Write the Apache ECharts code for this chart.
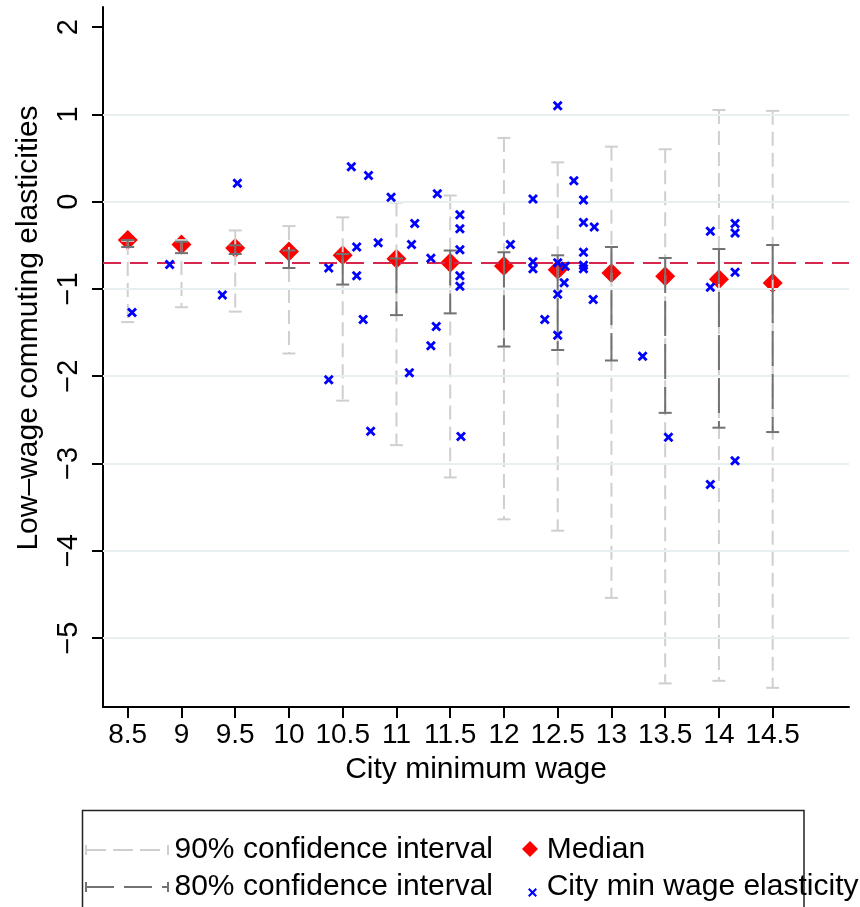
<!DOCTYPE html>
<html>
<head>
<meta charset="utf-8">
<script src="https://cdn.jsdelivr.net/npm/echarts@6/dist/echarts.min.js"></script>
<style>
  html, body { margin: 0; padding: 0; background: #fff; }
  #chart { width: 860px; height: 907px; }
</style>
</head>
<body>
<div id="chart"></div>
<script>
// tick labels
const wageTicks = [8.5, 9, 9.5, 10, 10.5, 11, 11.5, 12, 12.5, 13, 13.5, 14, 14.5]
const elasticityTicks = [-5, -4, -3, -2, -1, 0, 1, 2]
const gridValues = [-5, -4, -3, -2, -1, 0, 1]

// median and confidence intervals by city minimum wage
const medianWage = [8.5, 9, 9.5, 10, 10.5, 11, 11.5, 12, 12.5, 13, 13.5, 14, 14.5]
const medianValue = [-0.44, -0.49, -0.53, -0.57, -0.615, -0.655, -0.70, -0.737, -0.78, -0.818, -0.856, -0.89, -0.932]
const ci90Low = [-1.38, -1.21, -1.26, -1.74, -2.28, -2.79, -3.16, -3.64, -3.77, -4.54, -5.52, -5.49, -5.57]
const ci90High = [-0.45, -0.44, -0.33, -0.28, -0.18, -0.01, 0.07, 0.73, 0.45, 0.63, 0.60, 1.05, 1.04]
const ci80Low = [-0.52, -0.59, -0.60, -0.76, -0.95, -1.30, -1.28, -1.66, -1.70, -1.82, -2.42, -2.59, -2.64]
const ci80High = [-0.44, -0.46, -0.50, -0.56, -0.60, -0.65, -0.56, -0.58, -0.615, -0.52, -0.646, -0.543, -0.497]
const overallMedian = -0.70

// individual cities
const cityWage = [8.54, 8.89, 9.38, 9.52, 10.37, 10.37, 10.58, 10.63, 10.63, 10.69, 10.74, 10.76, 10.83, 10.95,
  11.12, 11.14, 11.17, 11.32, 11.32, 11.37, 11.38, 11.59, 11.59, 11.59, 11.59, 11.59, 11.60,
  12.06, 12.27, 12.27, 12.27, 12.38, 12.50, 12.50, 12.50, 12.50, 12.57, 12.56, 12.65, 12.74, 12.74,
  12.74, 12.74, 12.74, 12.84, 12.83, 13.29, 13.53, 13.92, 13.92, 13.92, 14.15, 14.15, 14.15, 14.15]
const cityElasticity = [-1.27, -0.72, -1.07, 0.21, -0.76, -2.04, 0.40, -0.52, -0.85, -1.35, 0.30, -2.63, -0.47, 0.05,
  -1.96, -0.49, -0.25, -0.65, -1.65, -1.43, 0.09, -0.15, -0.31, -0.55, -0.85, -0.97, -2.69,
  -0.49, 0.03, -0.69, -0.77, -1.35, 1.10, -0.70, -1.06, -1.53, -0.74, -0.93, 0.24, 0.02, -0.24,
  -0.58, -0.73, -0.77, -0.29, -1.12, -1.77, -2.70, -0.34, -0.98, -3.24, -0.25, -0.36, -0.81, -2.97]

const FONT = "'Liberation Sans', Arial, Helvetica, sans-serif"
const LIGHT = '#cfcfcf'
const DARK = '#727272'
const crossPath = 'path://M2,0 L5,3 L8,0 L10,2 L7,5 L10,8 L8,10 L5,7 L2,10 L0,8 L3,5 L0,2 Z'

const ci90 = medianWage.map((w, i) => [w, ci90Low[i], ci90High[i]])
const ci80 = medianWage.map((w, i) => [w, ci80Low[i], ci80High[i]])
const medians = medianWage.map((w, i) => [w, medianValue[i]])
const cities = cityWage.map((w, i) => [w, cityElasticity[i]])

// vertical bar with caps, drawn top to bottom
function ciRender(color, dash) {
  return function (params, api) {
    const x = api.value(0)
    const hi = api.coord([x, api.value(2)])
    const lo = api.coord([x, api.value(1)])
    const style = { stroke: color, lineWidth: 2, fill: null }
    return {
      type: 'group',
      children: [
        { type: 'line', shape: { x1: hi[0], y1: hi[1], x2: lo[0], y2: lo[1] }, style: Object.assign({ lineDash: dash }, style) },
        { type: 'line', shape: { x1: hi[0] - 6.5, y1: hi[1], x2: hi[0] + 6.5, y2: hi[1] }, style: style },
        { type: 'line', shape: { x1: lo[0] - 6.5, y1: lo[1], x2: lo[0] + 6.5, y2: lo[1] }, style: style }
      ]
    }
  }
}

const chart = echarts.init(document.getElementById('chart'))
chart.setOption({
  backgroundColor: '#fff',
  animation: false,
  grid: { left: 103, top: 7, right: 11, bottom: 200, containLabel: false },
  xAxis: {
    type: 'value',
    min: 8.27,
    max: 15.21,
    name: 'City minimum wage',
    nameLocation: 'middle',
    nameGap: 48,
    nameTextStyle: { fontFamily: FONT, fontSize: 30, color: '#000' },
    axisLine: { onZero: false, lineStyle: { color: '#000', width: 2 } },
    axisTick: { show: true, customValues: wageTicks, length: 11, lineStyle: { color: '#000', width: 2 } },
    axisLabel: { customValues: wageTicks, margin: 14, fontFamily: FONT, fontSize: 28, color: '#000' },
    splitLine: { show: false }
  },
  yAxis: {
    type: 'value',
    min: -5.79,
    max: 2.23,
    name: 'Low\u2013wage commuting elasticities',
    nameLocation: 'middle',
    nameGap: 59,
    nameTextStyle: { fontFamily: FONT, fontSize: 30, color: '#000', padding: [0, 0, 0, 58] },
    axisLine: { onZero: false, lineStyle: { color: '#000', width: 2 } },
    axisTick: { show: true, customValues: elasticityTicks, length: 11, lineStyle: { color: '#000', width: 2 } },
    axisLabel: {
      customValues: elasticityTicks, rotate: 90, margin: 20, fontFamily: FONT, fontSize: 29, color: '#000',
      formatter: v => (v < 0 ? '\u2212' + Math.abs(v) : String(v))
    },
    splitLine: { show: false }
  },
  series: [
    {
      name: 'grid',
      type: 'line',
      data: [],
      z: 1,
      silent: true,
      markLine: {
        silent: true,
        symbol: 'none',
        label: { show: false },
        lineStyle: { color: '#e8eff1', width: 2, type: 'solid' },
        data: gridValues.map(v => ({ yAxis: v }))
      }
    },
    {
      name: 'overall',
      type: 'line',
      data: [],
      z: 2,
      silent: true,
      markLine: {
        silent: true,
        symbol: 'none',
        label: { show: false },
        lineStyle: { color: '#d8274f', width: 2, type: [18, 9] },
        data: [{ yAxis: overallMedian }]
      }
    },
    {
      name: 'Median',
      type: 'scatter',
      data: medians,
      symbol: 'diamond',
      symbolSize: [20, 20],
      itemStyle: { color: '#ff0000', opacity: 1 },
      z: 3
    },
    {
      name: '90% confidence interval',
      type: 'custom',
      data: ci90,
      renderItem: ciRender(LIGHT, [14, 7]),
      z: 4
    },
    {
      name: '80% confidence interval',
      type: 'custom',
      data: ci80,
      renderItem: ciRender(DARK, [35, 8]),
      z: 5
    },
    {
      name: 'City min wage elasticity',
      type: 'scatter',
      data: cities,
      symbol: crossPath,
      symbolSize: 10,
      itemStyle: { color: '#0000ff', opacity: 1 },
      z: 6
    }
  ],
  graphic: [
    { type: 'rect', shape: { x: 82.5, y: 810.5, width: 721.5, height: 130 }, style: { fill: null, stroke: '#222', lineWidth: 1.5 }, z: 10 },
    { type: 'line', shape: { x1: 86, y1: 850, x2: 168, y2: 850 }, style: { stroke: LIGHT, lineWidth: 2, lineDash: [20, 7] }, z: 10 },
    { type: 'line', shape: { x1: 86, y1: 845, x2: 86, y2: 855 }, style: { stroke: LIGHT, lineWidth: 2 }, z: 10 },
    { type: 'line', shape: { x1: 168, y1: 845, x2: 168, y2: 855 }, style: { stroke: LIGHT, lineWidth: 2 }, z: 10 },
    { type: 'line', shape: { x1: 86, y1: 887, x2: 168, y2: 887 }, style: { stroke: DARK, lineWidth: 2, lineDash: [28, 10] }, z: 10 },
    { type: 'line', shape: { x1: 86, y1: 882, x2: 86, y2: 892 }, style: { stroke: DARK, lineWidth: 2 }, z: 10 },
    { type: 'line', shape: { x1: 168, y1: 882, x2: 168, y2: 892 }, style: { stroke: DARK, lineWidth: 2 }, z: 10 },
    { type: 'text', style: { text: '90% confidence interval', x: 174.5, y: 850, verticalAlign: 'middle', font: '30px ' + FONT, fill: '#000' }, z: 10 },
    { type: 'text', style: { text: '80% confidence interval', x: 174.5, y: 887, verticalAlign: 'middle', font: '30px ' + FONT, fill: '#000' }, z: 10 },
    { type: 'polygon', shape: { points: [[530, 841], [538, 849], [530, 857], [522, 849]] }, style: { fill: '#ff0000' }, z: 10 },
    { type: 'text', style: { text: 'Median', x: 546.7, y: 850, verticalAlign: 'middle', font: '30px ' + FONT, fill: '#000' }, z: 10 },
    { type: 'polygon', shape: { points: [[529.5, 888], [532.5, 891], [535.5, 888], [537, 889.5], [534, 892.5], [537, 895.5], [535.5, 897], [532.5, 894], [529.5, 897], [528, 895.5], [531, 892.5], [528, 889.5]] }, style: { fill: '#0000ff' }, z: 10 },
    { type: 'text', style: { text: 'City min wage elasticity', x: 546.7, y: 887, verticalAlign: 'middle', font: '30px ' + FONT, fill: '#000' }, z: 10 }
  ]
})
</script>
</body>
</html>
